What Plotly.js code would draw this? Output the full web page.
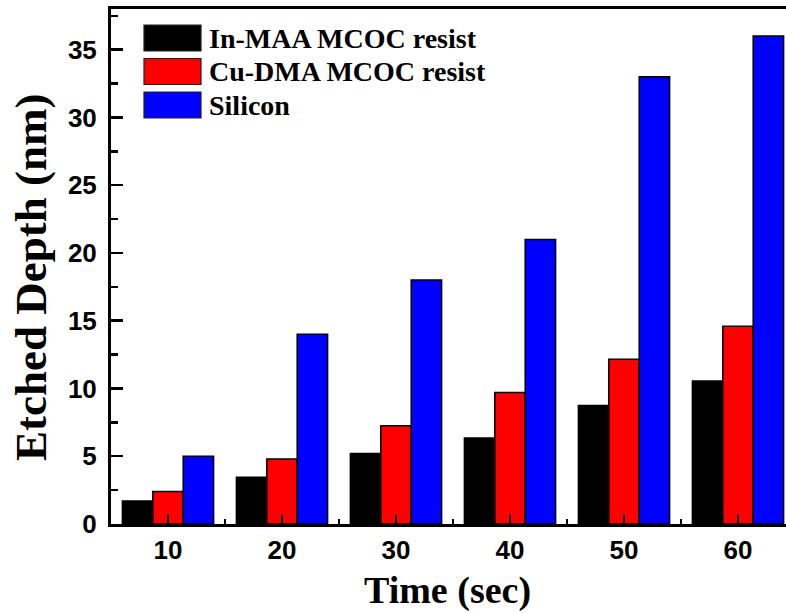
<!DOCTYPE html>
<html>
<head>
<meta charset="utf-8">
<script src="https://cdn.plot.ly/plotly-3.0.1.min.js"></script>
<style>
html, body { margin: 0; padding: 0; overflow: hidden; background: #fff; }
#chart { width: 800px; height: 613px; }
</style>
</head>
<body>
<div id="chart"></div>
<script>
const times = [10, 20, 30, 40, 50, 60];
const inMAA = [1.7, 3.45, 5.2, 6.35, 8.75, 10.55];
const cuDMA = [2.4, 4.8, 7.25, 9.7, 12.15, 14.6];
const silicon = [5.0, 14.0, 18.0, 21.0, 33.0, 36.0];
const seriesNames = ['In-MAA MCOC resist', 'Cu-DMA MCOC resist', 'Silicon'];
const seriesColors = ['#000000', '#ff0000', '#0000ff'];
const seriesValues = [inMAA, cuDMA, silicon];
const xTitle = 'Time (sec)';
const yTitle = 'Etched Depth (nm)';

const traces = seriesValues.map((vals, i) => ({
  type: 'bar',
  x: times,
  y: vals,
  name: seriesNames[i],
  marker: { color: seriesColors[i], line: { color: '#000', width: 1.5 } },
  showlegend: false
}));

// plot area geometry (pixels)
const W = 800, H = 613;
const mL = 111, mR = 5, mT = 9, mB = 89;
const pw = W - mL - mR, ph = H - mT - mB;
const px = x => (x - mL) / pw;
const py = y => 1 - (y - mT) / ph;

const shapes = [];
const annotations = [];
seriesNames.forEach((nm, i) => {
  const top = 25 + i * 33.5;
  shapes.push({
    type: 'rect', xref: 'paper', yref: 'paper',
    x0: px(144), x1: px(201), y0: py(top + 26), y1: py(top),
    fillcolor: seriesColors[i], line: { color: '#222', width: 1.2 }
  });
  annotations.push({
    xref: 'paper', yref: 'paper', x: px(207), y: py(top + 13),
    xanchor: 'left', yanchor: 'middle', showarrow: false,
    text: nm,
    font: { family: 'Liberation Serif', size: 28, weight: 'bold', color: '#000' }
  });
});

annotations.push({
  xref: 'paper', yref: 'paper', x: px(31), y: py(277),
  xanchor: 'center', yanchor: 'middle', showarrow: false, textangle: -90,
  text: yTitle,
  font: { family: 'Liberation Serif', size: 45, weight: 'bold', color: '#000' }
});
annotations.push({
  xref: 'paper', yref: 'paper', x: px(447), y: py(590),
  xanchor: 'center', yanchor: 'middle', showarrow: false,
  text: xTitle,
  font: { family: 'Liberation Serif', size: 38, weight: 'bold', color: '#000' }
});

const tickFont = { family: 'Liberation Sans, Arial, sans-serif', size: 26, weight: 700, color: '#000' };

const layout = {
  width: W, height: H,
  margin: { l: mL, r: mR, t: mT, b: mB },
  paper_bgcolor: '#fff', plot_bgcolor: '#fff',
  barmode: 'group', bargap: 0.2, bargroupgap: 0,
  showlegend: false,
  xaxis: {
    range: [5, 65], tickmode: 'linear', tick0: 10, dtick: 10,
    ticks: 'inside', ticklen: 10, tickwidth: 2.5, tickcolor: '#000',
    minor: { dtick: 5, tick0: 5, ticks: 'inside', ticklen: 5, tickwidth: 2.5, tickcolor: '#000' },
    showline: true, linewidth: 3, linecolor: '#000', mirror: true,
    showgrid: false, zeroline: false,
    ticklabelstandoff: 1,
    tickfont: tickFont
  },
  yaxis: {
    range: [0, 38], tickmode: 'linear', tick0: 0, dtick: 5,
    ticks: 'inside', ticklen: 12, tickwidth: 2.5, tickcolor: '#000',
    minor: { dtick: 2.5, ticks: 'inside', ticklen: 7, tickwidth: 2.5, tickcolor: '#000' },
    showline: true, linewidth: 3, linecolor: '#000', mirror: true,
    showgrid: false, zeroline: false,
    ticklabelstandoff: 6,
    tickfont: tickFont
  },
  shapes: shapes,
  annotations: annotations
};

Plotly.newPlot('chart', traces, layout, { displayModeBar: false, staticPlot: true });
</script>
</body>
</html>
